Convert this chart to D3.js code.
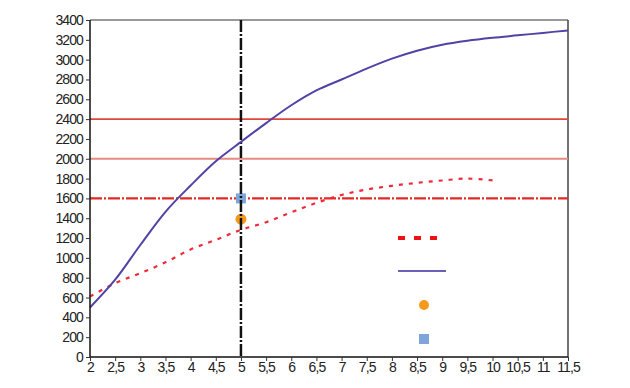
<!DOCTYPE html>
<html>
<head>
<meta charset="utf-8">
<script src="https://cdn.jsdelivr.net/npm/d3@7"></script>
<style>
  body { margin: 0; background: #fff; }
  svg text { font-family: "Liberation Sans", Arial, sans-serif; font-size: 14px; fill: #222; }
</style>
</head>
<body>
<svg id="chart" width="630" height="388"></svg>
<script>
// data
var xTicks = [2, 2.5, 3, 3.5, 4, 4.5, 5, 5.5, 6, 6.5, 7, 7.5, 8, 8.5, 9, 9.5, 10, 10.5, 11, 11.5];
var yTicks = [0, 200, 400, 600, 800, 1000, 1200, 1400, 1600, 1800, 2000, 2200, 2400, 2600, 2800, 3000, 3200, 3400];

var blueX = [2, 2.5, 3, 3.5, 4, 4.5, 5, 5.5, 6, 6.5, 7, 7.5, 8, 8.5, 9, 9.5, 10, 10.5, 11, 11.5];
var blueY = [500, 780, 1130, 1465, 1730, 1975, 2170, 2360, 2540, 2690, 2800, 2910, 3010, 3090, 3150, 3190, 3220, 3245, 3270, 3295];

var redX = [2, 2.5, 3, 3.5, 4, 4.5, 5, 5.5, 6, 6.5, 7, 7.5, 8, 8.5, 9, 9.5, 10];
var redY = [610, 745, 845, 955, 1085, 1182, 1283, 1360, 1460, 1555, 1635, 1690, 1727, 1757, 1781, 1800, 1782];

var hLines = [2400, 2000, 1600];
var vLine = 5;
var orangePt = [5, 1390];
var squarePt = [5, 1600];

var svg = d3.select('#chart');
var margin = { left: 90, right: 62, top: 20, bottom: 31 };
var width = 630 - margin.left - margin.right,
    height = 388 - margin.top - margin.bottom;

var x = d3.scaleLinear().domain([2, 11.5]).range([0, width]);
var y = d3.scaleLinear().domain([0, 3400]).range([height, 0]);

var g = svg.append('g').attr('transform', 'translate(' + margin.left + ',' + margin.top + ')');

// frame top / right
g.append('line').attr('x1', 0).attr('x2', width).attr('y1', 0).attr('y2', 0)
  .attr('stroke', '#777').attr('stroke-width', 1.5);
g.append('line').attr('x1', width).attr('x2', width).attr('y1', 0).attr('y2', height)
  .attr('stroke', '#444').attr('stroke-width', 1.5);

// horizontal reference lines
var hStyles = [
  { c: '#e0463a', w: 1.6, d: null },
  { c: '#e98a80', w: 2, d: null },
  { c: '#e02a24', w: 2.4, d: '12,2,2,2' }
];
g.selectAll('.hline').data(hLines).enter().append('line')
  .attr('x1', 0).attr('x2', width)
  .attr('y1', function(d) { return y(d); })
  .attr('y2', function(d) { return y(d); })
  .attr('stroke', function(d, i) { return hStyles[i].c; })
  .attr('stroke-width', function(d, i) { return hStyles[i].w; })
  .attr('stroke-dasharray', function(d, i) { return hStyles[i].d; });

// points (under the vertical line)
g.append('rect')
  .attr('x', x(squarePt[0]) - 5).attr('y', y(squarePt[1]) - 5)
  .attr('width', 10).attr('height', 10)
  .attr('fill', '#7fa6da');
g.append('circle')
  .attr('cx', x(orangePt[0])).attr('cy', y(orangePt[1]))
  .attr('r', 5.5).attr('fill', '#f39a1e');

// vertical dash-dot line
g.append('line')
  .attr('x1', x(vLine)).attr('x2', x(vLine))
  .attr('y1', 0).attr('y2', height)
  .attr('stroke', '#111').attr('stroke-width', 2.5)
  .attr('stroke-dasharray', '12,2,2,2');

var line = d3.line().curve(d3.curveCatmullRom.alpha(0.5))
  .x(function(d) { return x(d[0]); })
  .y(function(d) { return y(d[1]); });

g.append('path')
  .datum(d3.zip(redX, redY))
  .attr('d', line)
  .attr('fill', 'none')
  .attr('stroke', '#ee2a3a')
  .attr('stroke-width', 2.2)
  .attr('stroke-dasharray', '4,6');

g.append('path')
  .datum(d3.zip(blueX, blueY))
  .attr('d', line)
  .attr('fill', 'none')
  .attr('stroke', '#4f43a6')
  .attr('stroke-width', 2);

// axes
var yAxis = d3.axisLeft(y).tickValues(yTicks).tickSize(4).tickFormat(d3.format('d'));
var xAxis = d3.axisBottom(x).tickValues(xTicks).tickSize(4)
  .tickFormat(function(d) { return String(d).replace('.', ','); });

var ya = g.append('g').call(yAxis);
ya.select('.domain').attr('stroke', '#111').attr('stroke-width', 1.5).attr('d', 'M0,0V' + height);
ya.selectAll('.tick line').attr('stroke', '#333');
ya.selectAll('text').attr('x', -7).attr('letter-spacing', '-0.9px');

var xa = g.append('g').attr('transform', 'translate(0,' + height + ')').call(xAxis);
xa.select('.domain').attr('stroke', '#111').attr('stroke-width', 1.5).attr('d', 'M0,0H' + width);
xa.selectAll('.tick line').attr('stroke', '#333');
xa.selectAll('text').attr('y', 5).attr('letter-spacing', '-0.9px');

// legend (symbols only)
var lg = svg.append('g').attr('transform', 'translate(398,238)');
lg.append('line').attr('x1', 0).attr('x2', 40).attr('y1', 0).attr('y2', 0)
  .attr('stroke', '#ee1111').attr('stroke-width', 4).attr('stroke-dasharray', '7,9');
lg.append('line').attr('x1', 0).attr('x2', 48).attr('y1', 33).attr('y2', 33)
  .attr('stroke', '#6a60b8').attr('stroke-width', 2);
lg.append('circle').attr('cx', 26).attr('cy', 67).attr('r', 5).attr('fill', '#f39a1e');
lg.append('rect').attr('x', 21).attr('y', 96).attr('width', 10).attr('height', 10).attr('fill', '#7fa6da');
</script>
</body>
</html>
